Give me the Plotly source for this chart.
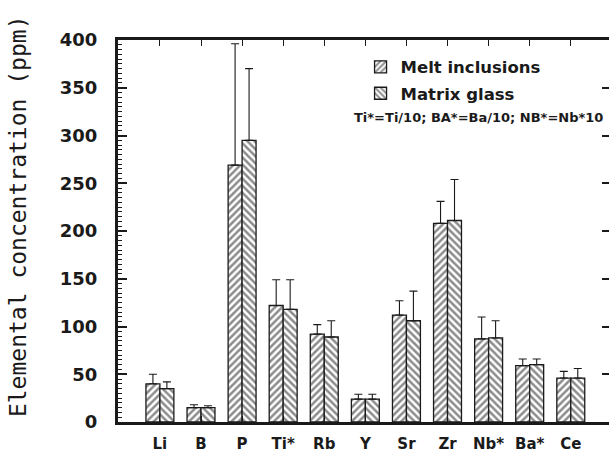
import plotly.graph_objects as go

categories = ["Li", "B", "P", "Ti*", "Rb", "Y", "Sr", "Zr", "Nb*", "Ba*", "Ce"]
melt_inclusions = [40, 15, 269, 122, 92, 24, 112, 208, 87, 59, 46]
melt_inclusions_err = [10, 3, 127, 27, 10, 5, 15, 23, 23, 7, 7]
matrix_glass = [35, 15, 295, 118, 89, 24, 106, 211, 88, 60, 46]
matrix_glass_err = [7, 2, 75, 31, 17, 5, 31, 43, 18, 6, 10]
y_ticks = [0, 50, 100, 150, 200, 250, 300, 350, 400]

INK = "#1a1a1a"
FONT = "DejaVu Sans"

fig = go.Figure()
fig.add_trace(go.Bar(
    name="Melt inclusions", x=list(range(len(categories))), y=melt_inclusions,
    legendgroup="a",
    marker=dict(color="white", line=dict(color=INK, width=1.3),
                pattern=dict(shape="/", fgcolor=INK, bgcolor="white", size=5, solidity=0.5)),
    error_y=dict(type="data", array=melt_inclusions_err, symmetric=False,
                 arrayminus=[0] * len(categories), color=INK, thickness=1.1, width=4),
))
fig.add_trace(go.Bar(
    name="Matrix glass", x=list(range(len(categories))), y=matrix_glass,
    legendgroup="b",
    marker=dict(color="white", line=dict(color=INK, width=1.3),
                pattern=dict(shape="\\", fgcolor=INK, bgcolor="white", size=5, solidity=0.5)),
    error_y=dict(type="data", array=matrix_glass_err, symmetric=False,
                 arrayminus=[0] * len(categories), color=INK, thickness=1.1, width=4),
))
# invisible trace to carry the right-hand axis ticks
fig.add_trace(go.Scatter(x=[0], y=[0], yaxis="y2", mode="markers",
                         marker=dict(opacity=0), showlegend=False, hoverinfo="skip"))

fig.update_layout(
    width=609, height=454,
    margin=dict(l=118, r=0, t=40, b=32, autoexpand=False),
    paper_bgcolor="white", plot_bgcolor="white",
    barmode="group", bargap=0.32, bargroupgap=0,
    font=dict(family=FONT, color=INK),
    showlegend=True,
    legend=dict(x=0.494, y=0.975, xanchor="left", yanchor="top",
                bgcolor="rgba(0,0,0,0)", tracegroupgap=2,
                font=dict(family=FONT, size=16.5, color=INK, weight="bold")),
    xaxis=dict(
        range=[-1.02, 10.93], tickmode="array", automargin=False,
        tickvals=list(range(len(categories))), ticktext=categories,
        ticks="inside", ticklen=6, tickwidth=1.3, tickcolor=INK,
        showline=True, linewidth=3, linecolor=INK, mirror="ticks",
        showgrid=False, zeroline=False, ticklabelstandoff=6,
        tickfont=dict(family=FONT, size=15, color=INK, weight="bold"),
    ),
    yaxis=dict(
        range=[0, 400], tickmode="array", tickvals=y_ticks, automargin=False,
        ticks="inside", ticklen=9, tickwidth=1.5, tickcolor=INK,
        minor=dict(dtick=5, ticks="inside", ticklen=4, tickwidth=1.2, tickcolor=INK),
        showline=True, linewidth=3, linecolor=INK, mirror=False,
        showgrid=False, zeroline=False, ticklabelstandoff=14,
        tickfont=dict(family=FONT, size=18, color=INK, weight="bold"),
    ),
    yaxis2=dict(
        range=[0, 400], overlaying="y", side="right", tickmode="array", tickvals=y_ticks,
        ticks="inside", ticklen=7, tickwidth=1.5, tickcolor=INK, automargin=False,
        showticklabels=False, showline=True, linewidth=2, linecolor=INK,
        showgrid=False, zeroline=False,
    ),
    annotations=[
        dict(text="Elemental concentration (ppm)", textangle=-90,
             xref="paper", yref="paper", x=-0.2037, y=0.539,
             xanchor="center", yanchor="middle", showarrow=False,
             font=dict(family="DejaVu Sans Mono", size=23, color=INK)),
        dict(text="Ti*=Ti/10; BA*=Ba/10; NB*=Nb*10",
             xref="paper", yref="paper", x=0.735, y=0.798,
             xanchor="center", yanchor="middle", showarrow=False,
             font=dict(family=FONT, size=13, color=INK, weight="bold")),
    ],
)

fig.write_html("out.html", config={"displayModeBar": False},
               post_script="document.body.style.margin='0';document.body.style.overflow='hidden';")
